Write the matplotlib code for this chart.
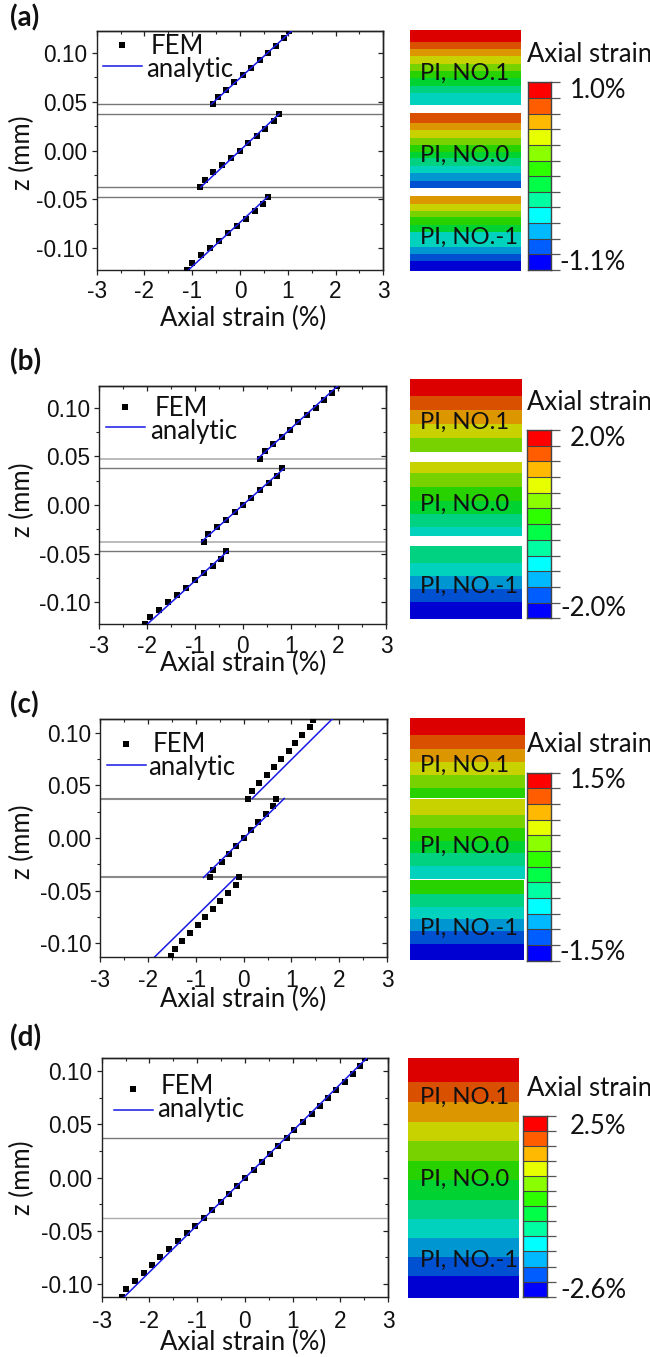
import matplotlib
matplotlib.use("Agg")
import matplotlib.pyplot as plt
from matplotlib.ticker import MultipleLocator

W, H = 650, 1357
SANS = "Liberation Sans"
HUM = "Lato"

# ---- FEM data: z (mm) and axial strain (%) ----
z_top_ab = [0.0475, 0.055, 0.0625, 0.07, 0.0775, 0.085, 0.0925, 0.1, 0.1075, 0.115, 0.1225]
z_mid_ab = [-0.0375, -0.03, -0.0225, -0.015, -0.0075, 0.0, 0.0075, 0.015, 0.0225, 0.03, 0.0375]
z_bot_ab = [-0.0475, -0.055, -0.0625, -0.07, -0.0775, -0.085, -0.0925, -0.1, -0.1075, -0.115, -0.1225]
z_top_c = [0.0375, 0.045, 0.0525, 0.06, 0.0675, 0.075, 0.0825, 0.09, 0.0975, 0.105, 0.1125]
z_mid_c = [-0.0375, -0.03, -0.0225, -0.015, -0.0075, 0.0, 0.0075, 0.015, 0.0225, 0.03, 0.0375]
z_bot_c = [-0.0375, -0.045, -0.0525, -0.06, -0.0675, -0.075, -0.0825, -0.09, -0.0975, -0.105, -0.1125]
z_d = [-0.1125, -0.105, -0.0975, -0.09, -0.0825, -0.075, -0.0675, -0.06, -0.0525, -0.045, -0.0375,
       -0.03, -0.0225, -0.015, -0.0075, 0.0, 0.0075, 0.015, 0.0225, 0.03, 0.0375,
       0.045, 0.0525, 0.06, 0.0675, 0.075, 0.0825, 0.09, 0.0975, 0.105, 0.1125]

a_top = [-0.57, -0.47, -0.30, -0.12, 0.06, 0.23, 0.42, 0.59, 0.76, 0.93, 1.03]
a_mid = [-0.84, -0.73, -0.56, -0.38, -0.19, 0.0, 0.17, 0.35, 0.53, 0.71, 0.82]
a_bot = [0.59, 0.49, 0.31, 0.13, -0.06, -0.25, -0.44, -0.63, -0.82, -1.01, -1.10]
b_top = [0.37, 0.46, 0.63, 0.82, 0.99, 1.16, 1.34, 1.52, 1.70, 1.87, 1.96]
b_mid = [-0.82, -0.72, -0.54, -0.36, -0.17, 0.0, 0.18, 0.36, 0.54, 0.72, 0.82]
b_bot = [-0.36, -0.45, -0.63, -0.82, -1.00, -1.19, -1.38, -1.57, -1.76, -1.94, -2.04]
c_top = [0.10, 0.17, 0.33, 0.49, 0.63, 0.78, 0.94, 1.07, 1.23, 1.38, 1.45]
c_mid = [-0.70, -0.64, -0.46, -0.31, -0.15, 0.0, 0.15, 0.31, 0.46, 0.62, 0.68]
c_bot = [-0.09, -0.16, -0.32, -0.49, -0.64, -0.80, -0.95, -1.12, -1.28, -1.44, -1.52]
d_all = [-2.58, -2.49, -2.31, -2.12, -1.94, -1.77, -1.59, -1.40, -1.22, -1.04, -0.86,
         -0.69, -0.51, -0.34, -0.17, 0.0, 0.19, 0.35, 0.53, 0.70, 0.88,
         1.04, 1.22, 1.40, 1.57, 1.74, 1.90, 2.09, 2.26, 2.42, 2.51]

# ---- analytic segments ((strain0, strain1), (z0, z1)) ----
a_lines = [((-0.60, 1.08), (0.0475, 0.1225)), ((-0.82, 0.82), (-0.0375, 0.0375)), ((-1.08, 0.58), (-0.1225, -0.0475))]
b_lines = [((0.31, 1.99), (0.0475, 0.1225)), ((-0.86, 0.86), (-0.0375, 0.0375)), ((-2.00, -0.32), (-0.1225, -0.0475))]
c_lines = [((0.18, 1.86), (0.0375, 0.1133)), ((-0.84, 0.85), (-0.0375, 0.0375)), ((-1.87, -0.17), (-0.1133, -0.0375))]
d_lines = [((-2.53, 2.55), (-0.1122, 0.1122))]

interfaces_ab = [0.0475, 0.0375, -0.0375, -0.0475]
interfaces_cd = [0.0375, -0.0375]

# ---- contour strips: colour level (0 = top, red) and band thickness ----
muted = ["#DC0000", "#D95000", "#DC9600", "#C8D200", "#78D200", "#28D200",
         "#00D232", "#00D282", "#00D2BE", "#0096D2", "#0050D2", "#0000D2"]
bright = ["#FF0000", "#FF5D00", "#FFB900", "#E8FF00", "#8BFF00", "#2EFF00",
          "#00FF46", "#00FFA2", "#00FFFF", "#00B9FF", "#005DFF", "#0000FF"]

a1_lv = [0, 1, 2, 3, 4, 5, 6, 7, 8]
a1_h = [35, 22, 22, 22, 22, 22, 22, 22, 35]
a2_lv = [1, 2, 3, 4, 5, 6, 7, 8, 9, 10]
a2_h = [28, 23, 22, 22, 20, 20, 22, 23, 22, 21]
a3_lv = [2, 3, 4, 5, 6, 8, 9, 10, 11]
a3_h = [22, 22, 20, 22, 22, 45, 21, 22, 30]
b1_lv = [0, 1, 2, 3, 4]
b1_h = [53, 42, 41, 42, 43]
b2_lv = [3, 4, 5, 6, 7, 8]
b2_h = [34, 41, 41, 40, 40, 25]
b3_lv = [7, 8, 9, 10, 11]
b3_h = [53, 37, 40, 39, 52]
c1_lv = [0, 1, 2, 3, 4, 5]
c1_h = [52, 41, 38, 40, 39, 30]
c2_lv = [3, 4, 5, 6, 7, 8]
c2_h = [49, 40, 38, 37, 38, 38]
c3_lv = [5, 7, 8, 9, 10, 11]
c3_h = [42, 38, 37, 37, 37, 49]
d1_lv = [0, 1, 2, 3, 4, 5, 6, 7, 8, 9, 10, 11]
d1_h = [72, 59, 59, 59, 58, 59, 59, 58, 56, 57, 58, 66]

pi_names = ["PI, NO.1", "PI, NO.0", "PI, NO.-1"]
y_tick_vals = [-0.10, -0.05, 0, 0.05, 0.10]
y_tick_text = ["-0.10", "-0.05", "0.00", "0.05", "0.10"]
x_tick_vals = [-3, -2, -1, 0, 1, 2, 3]
x_tick_text = ["-3", "-2", "-1", "0", "1", "2", "3"]

fig = plt.figure(figsize=(W / 100, H / 100), dpi=100, facecolor="white")


def box(x0, y0, x1, y1, **kw):
    return fig.add_axes([x0 / W, 1 - y1 / H, (x1 - x0) / W, (y1 - y0) / H], **kw)


overlay = box(0, 0, W, H, zorder=20)
overlay.set_xlim(0, W)
overlay.set_ylim(H, 0)
overlay.axis("off")
overlay.patch.set_alpha(0)


def lab(x, y, s, size, family, ha="left", **kw):
    overlay.text(x, y, s, fontsize=size, family=family, ha=ha, va="center", color="#111111", **kw)


def panel(rect, ylim, groups, lines, interfaces, iface_style, xpad):
    ax = box(*rect)
    ax.set_xlim(-3, 3)
    ax.set_ylim(-ylim, ylim)
    for zv, st in zip(interfaces, iface_style):
        ax.axhline(zv, color=st[0], lw=st[1], zorder=1)
    for s, z in groups:
        ax.plot(s, z, ls="none", marker="s", ms=4.4, mfc="black", mec="black", mew=0, zorder=3)
    for xs, zs in lines:
        ax.plot(xs, zs, color="#1818E6", lw=1.1, zorder=4)
    ax.set_xticks(x_tick_vals)
    ax.set_xticklabels(x_tick_text, family=SANS)
    ax.set_yticks(y_tick_vals)
    ax.set_yticklabels(y_tick_text, family=SANS)
    ax.xaxis.set_minor_locator(MultipleLocator(0.5))
    ax.yaxis.set_minor_locator(MultipleLocator(0.025))
    ax.tick_params(which="major", direction="out", length=3.6, width=0.9, labelsize=16.3, color="#222222", labelcolor="#111111")
    ax.tick_params(which="minor", direction="out", length=2.2, width=0.8, color="#222222")
    ax.tick_params(axis="x", which="major", pad=xpad)
    ax.tick_params(axis="y", which="major", pad=2.9)
    sec = ax.secondary_xaxis("top")
    sec.set_xticks(x_tick_vals)
    sec.set_xticklabels([])
    sec.xaxis.set_minor_locator(MultipleLocator(0.5))
    sec.tick_params(which="major", direction="in", length=3.6, width=0.9, color="#222222")
    sec.tick_params(which="minor", direction="in", length=2.2, width=0.8, color="#222222")
    sec2 = ax.secondary_yaxis("right")
    sec2.set_yticks(y_tick_vals)
    sec2.set_yticklabels([])
    sec2.yaxis.set_minor_locator(MultipleLocator(0.025))
    sec2.tick_params(which="major", direction="in", length=3.6, width=0.9, color="#222222")
    sec2.tick_params(which="minor", direction="in", length=2.2, width=0.8, color="#222222")
    for sp in list(ax.spines.values()) + list(sec.spines.values()) + list(sec2.spines.values()):
        sp.set_linewidth(1.0)
        sp.set_color("#222222")
    return ax


def strip(rect, levels, heights):
    ax = box(*rect)
    bottom = 0
    for lv, h in zip(levels, heights):
        ax.bar(0, h, bottom=bottom, width=1, color=muted[lv], lw=0, align="edge")
        bottom += h
    ax.set_xlim(0, 1)
    ax.set_ylim(bottom, 0)
    ax.axis("off")


def colorbar(rect, tick_end):
    x0, y0, x1, y1 = rect
    ax = box(*rect)
    for i, c in enumerate(bright):
        ax.bar(0, 1, bottom=i, width=1, color=c, lw=0, align="edge")
    ax.set_xlim(0, 1)
    ax.set_ylim(12, 0)
    ax.set_xticks([])
    ax.yaxis.tick_right()
    ax.set_yticks(range(13))
    ax.set_yticklabels([])
    ax.tick_params(axis="y", length=(tick_end - x1) * 0.72, width=0.9, color="#555555")
    ax.hlines(range(13), 0, 1, color="#444444", lw=0.8)
    for sp in ax.spines.values():
        sp.set_color("#444444")
        sp.set_linewidth(1)


G1 = ("#777777", 1.0)
G2 = ("#BBBBBB", 1.4)
G3 = ("#8A8A8A", 1.5)

panel((96.7, 31, 383.3, 270), 0.1225,
      [(a_top, z_top_ab), (a_mid, z_mid_ab), (a_bot, z_bot_ab)], a_lines, interfaces_ab, [G1, G1, G1, G1], 3.6)
panel((99.3, 385.7, 386.3, 624.3), 0.1225,
      [(b_top, z_top_ab), (b_mid, z_mid_ab), (b_bot, z_bot_ab)], b_lines, interfaces_ab, [G2, G1, G2, G1], 3.9)
panel((100.3, 718.7, 387, 957.3), 0.1133,
      [(c_top, z_top_c), (c_mid, z_mid_c), (c_bot, z_bot_c)], c_lines, interfaces_cd, [G3, G3], 4.5)
panel((101.7, 1058.3, 388, 1297), 0.1122,
      [(d_all, z_d)], d_lines, interfaces_cd, [G1, ("#AAAAAA", 1.0)], 5.4)

# strips
strip((409.7, 30, 520.7, 104.7), a1_lv, a1_h)
strip((409.7, 113.3, 520.7, 187.7), a2_lv, a2_h)
strip((409.7, 196.3, 520.7, 270.7), a3_lv, a3_h)
strip((409.7, 378.7, 521.7, 452.3), b1_lv, b1_h)
strip((409.7, 462, 521.7, 535.7), b2_lv, b2_h)
strip((409.7, 545.7, 521.7, 619.3), b3_lv, b3_h)
strip((409.7, 718, 525, 798), c1_lv, c1_h)
strip((409.7, 798.7, 525, 878.7), c2_lv, c2_h)
strip((409.7, 880, 523.5, 960), c3_lv, c3_h)
strip((408.3, 1058.3, 519.3, 1298.3), d1_lv, d1_h)

# colour bars
colorbar((528, 82.3, 551.3, 270), 560)
colorbar((527, 430, 551, 618.3), 560)
colorbar((527, 772.7, 551, 960.7), 560)
colorbar((523.3, 1115.7, 546.7, 1296.7), 555.3)

PI = 17.2
BIG = 18.5
for y3, names in [((73, 155, 237), pi_names), ((422, 504, 586), pi_names),
                  ((765, 846, 928), pi_names), ((1097, 1179, 1260), pi_names)]:
    for y, s in zip(y3, names):
        lab(420, y, s, PI, HUM)

for hi_y, hi, lo_y, lo, ty in [(90, "1.0%", 262.7, "-1.1%", 55), (438, "2.0%", 609, "-2.0%", 403),
                               (780, "1.5%", 952.7, "-1.5%", 744), (1127, "2.5%", 1290.7, "-2.6%", 1088)]:
    lab(527, ty, "Axial strain", BIG, HUM)
    lab(626, hi_y, hi, BIG, HUM, ha="right")
    lab(626, lo_y, lo, BIG, HUM, ha="right")

# legends and frame labels
legend_pos = [(121.7, 45, 151, 47, 102.7, 141.7, 65.7, 146, 69),
              (125, 406.7, 155, 409, 106, 145, 427, 150, 431.7),
              (126, 743.7, 153, 745, 106.7, 145.7, 764.7, 148, 767.7),
              (133, 1089, 161, 1087, 114, 153, 1110, 157, 1109)]
for mx, my, fx, fy, l0, l1, ly, tx, ty in legend_pos:
    overlay.plot([mx], [my], ls="none", marker="s", ms=4.6, mfc="black", mew=0)
    lab(fx, fy, "FEM", BIG, HUM)
    overlay.plot([l0, l1], [ly, ly], color="#1818E6", lw=1.1)
    lab(tx, ty, "analytic", BIG, HUM)

for y, s in [(18, "(a)"), (362, "(b)"), (705, "(c)"), (1038, "(d)")]:
    lab(10, y, s, 20, HUM, fontweight="bold")
for y in (153, 500, 842, 1178):
    lab(22, y, "z (mm)", BIG, HUM, ha="center", rotation=90)
for y in (318, 663, 999, 1342):
    lab(243, y, "Axial strain (%)", BIG, HUM, ha="center")

overlay.set_xlim(0, W)
overlay.set_ylim(H, 0)
fig.savefig("out.png", dpi=100)
